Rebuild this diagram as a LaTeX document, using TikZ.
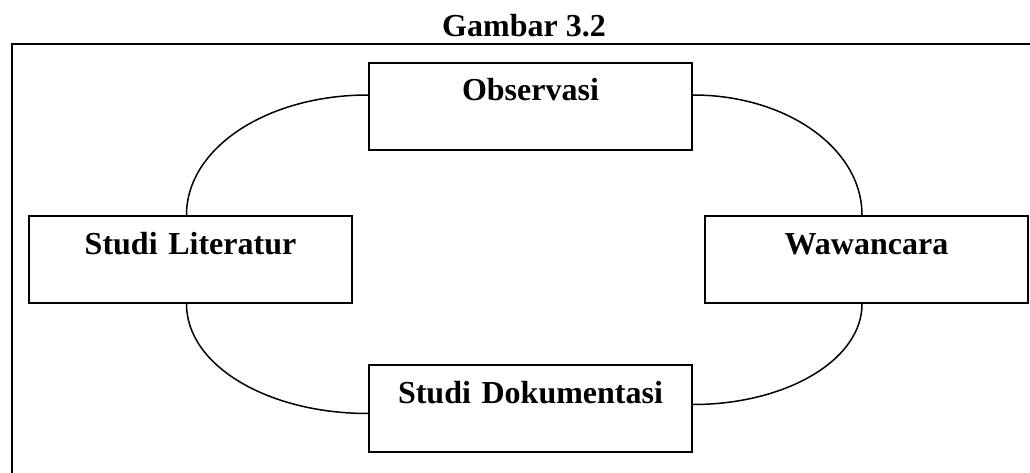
\documentclass[tikz,border=0pt]{standalone}
\usepackage{fontspec}
\setmainfont{Liberation Serif}
\begin{document}
\begin{tikzpicture}[x=1pt,y=-1pt,
  every node/.style={font=\fontsize{32}{38}\selectfont\bfseries},
  stagebox/.style={draw, line width=2pt, inner sep=0pt, anchor=north west,
    text width=323pt, align=center, text height=38pt, text depth=49pt},
  link/.style={line width=1.5pt}]
  \useasboundingbox (0,0) rectangle (1030,473);
  \clip (0,0) rectangle (1030,473);
  \fill[white] (0,0) rectangle (1030,473);
  % caption above the frame
  \node[anchor=base, inner sep=0pt] (title) at (524,37) {Gambar 3.2};
  % outer frame (runs past the right and bottom edges)
  \draw[line width=1.8pt] (1045,44) -- (12,44) -- (12,490);
  % the four data-collection methods
  \node[stagebox] (obs) at (368,62)  {Observasi};
  \node[stagebox] (lit) at (28,215)  {Studi Literatur};
  \node[stagebox] (waw) at (704,215) {Wawancara};
  \node[stagebox] (dok) at (368,364) {Studi Dokumentasi};
  % elliptical links around the cycle
  \draw[link] ([yshift=11.5pt]obs.west) .. controls +(-101,0) and +(0,-67) .. ([xshift=-4pt]lit.north);
  \draw[link] ([yshift=11.5pt]obs.east) .. controls +(93,0) and +(0,-67) .. ([xshift=-4.5pt]waw.north);
  \draw[link] ([xshift=-4pt]lit.south) .. controls +(0,61) and +(-101,0) .. ([yshift=-5pt]dok.west);
  \draw[link] ([xshift=-4.5pt]waw.south) .. controls +(0,56) and +(93,0) .. ([yshift=4pt]dok.east);
\end{tikzpicture}
\end{document}
